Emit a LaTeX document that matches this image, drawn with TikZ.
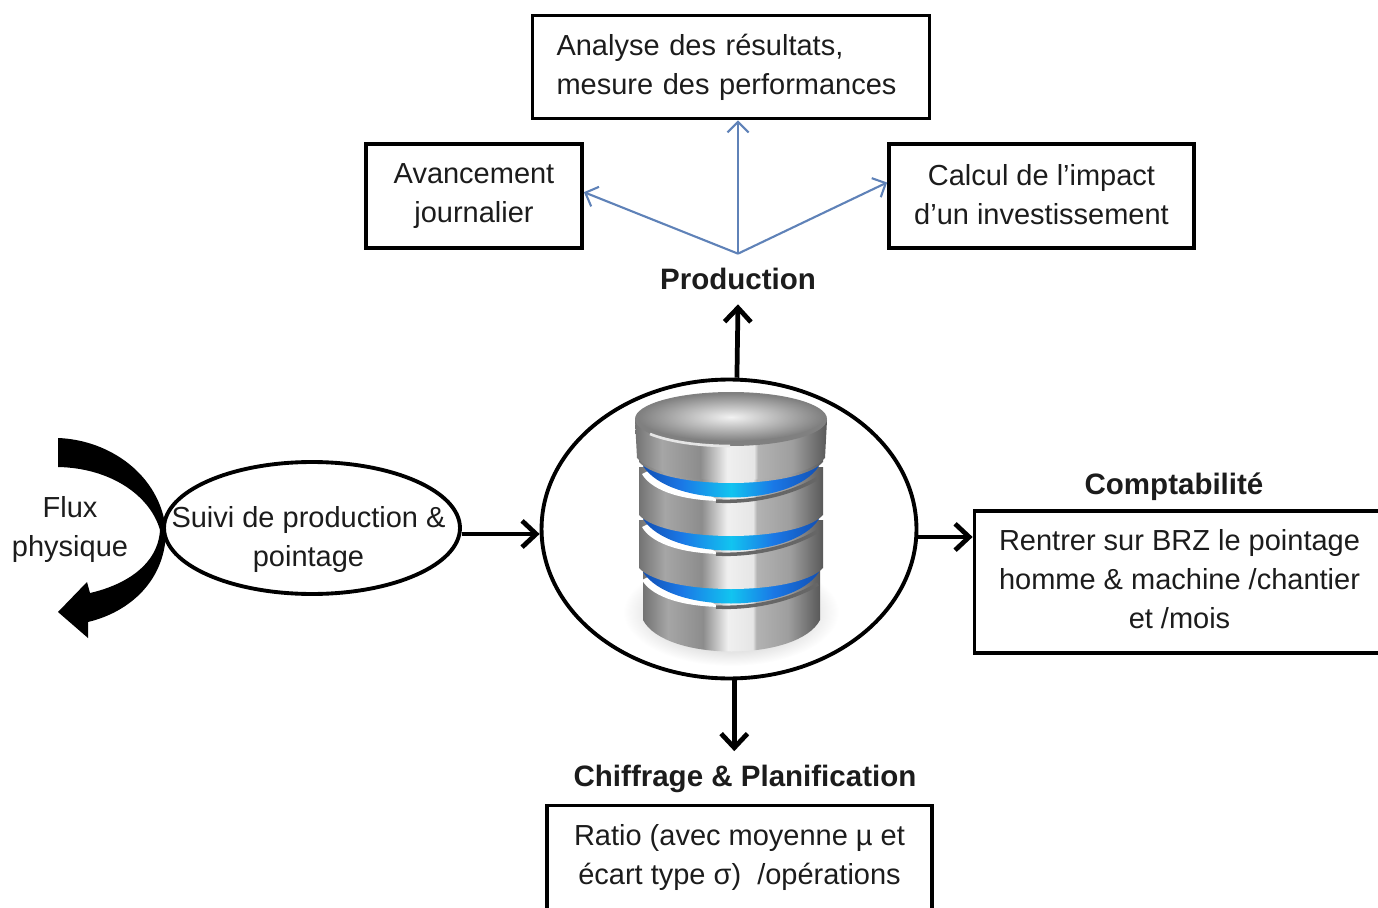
\documentclass[tikz,border=0pt]{standalone}
\usepackage{fontspec}
\setmainfont{Liberation Sans}
\usepackage{tikz}
\usetikzlibrary{arrows.meta,shapes.geometric}
\definecolor{lienbleu}{HTML}{5F82B8}
\definecolor{texte}{HTML}{1C1C1C}
\definecolor{bleufonce}{HTML}{1250B4}
\definecolor{bleumoyen}{HTML}{1A78E6}
\definecolor{bleuclair}{HTML}{12C4F0}
\pgfdeclarehorizontalshading{metal}{100bp}{color(0bp)=(black!55); color(25bp)=(black!55); color(32bp)=(black!35); color(42bp)=(black!45); color(49bp)=(black!6); color(56bp)=(black!10); color(57bp)=(black!30); color(66bp)=(black!38); color(75bp)=(black!65); color(100bp)=(black!65)}
\pgfdeclarehorizontalshading{anneau}{100bp}{color(0bp)=(bleufonce); color(25bp)=(bleufonce); color(36bp)=(bleumoyen); color(50bp)=(bleuclair); color(62bp)=(bleumoyen); color(75bp)=(bleufonce); color(100bp)=(bleufonce)}
\tikzset{
  etiquette/.style={text=texte,align=center,font=\fontsize{16.5}{22.2}\selectfont,inner sep=0pt},
  boite/.style={draw=black,line width=2.2pt,etiquette},
  titre/.style={text=texte,align=center,font=\fontsize{16.8}{22}\selectfont\bfseries,inner sep=0pt,minimum height=1cm},
  fleche/.style={line width=2.7pt,-{Straight Barb[length=8pt,width=15pt,line width=2.7pt]}},
  flechebleue/.style={draw=lienbleu,line width=1.2pt,-{Straight Barb[length=6pt,width=12pt,line width=1.2pt]}}
}
\begin{document}
\begin{tikzpicture}[x=0.02cm,y=-0.02cm]
\useasboundingbox (0,0) rectangle (1378,908);
% ombre sous la base
\shade [inner color=black!40,outer color=white] (731,612) ellipse [x radius=108,y radius=54];
\node (vbase) [draw=black,line width=2.2pt,ellipse,inner sep=0pt,minimum width=7.5cm,minimum height=5.98cm] at (729,529) {};
% base de donnees
\shade [shading=metal] (643,550) -- (643,620) .. controls (665,662) and (798,662) .. (820,620) -- (820,550) -- cycle;
\foreach \dy in {106,53,0} {
  \begin{scope}[shift={(0,\dy)}]
  \fill [white] (642,474) .. controls (650,488) and (675,500) .. (720,501) -- (700,490) -- (650,470) -- cycle;
  \draw [black!60,line width=2pt] (716,501) .. controls (750,503) and (790,495) .. (818,478);
  \shade [shading=anneau] (643,460) -- (643,466) .. controls (670,508) and (792,508) .. (819,466) -- (819,460) -- cycle;
  \shade [shading=metal] (639,414) -- (639,462) .. controls (665,490) and (797,490) .. (823,462) -- (823,414) -- cycle;
  \end{scope}
}
\shade [shading=metal] (635,420) -- (637,458) .. controls (665,488) and (797,488) .. (825,458) -- (827,420) -- cycle;
\fill [black!50] (731,419) ellipse [x radius=96,y radius=27];
\draw [black!10,line width=1.5pt] (650,434) .. controls (670,442) and (700,446) .. (730,446);
\shade [inner color=black!5,outer color=black!50] (731,417) ellipse [x radius=93,y radius=24];
% fleche du flux physique
\fill [black] (58,438) .. controls (110,440) and (160,475) .. (166,530) .. controls (166,580) and (130,612) .. (88,622) -- (88,638) -- (58,612) -- (87,582) -- (90,593) .. controls (125,585) and (158,565) .. (160,530) .. controls (150,495) and (110,468) .. (58,467) -- cycle;
\node (v0) [etiquette] at (70,529.5) {Flux\\physique};
\node (v1) [boite,ellipse,minimum width=5.92cm,minimum height=2.64cm,label={[etiquette,xshift=-2pt,yshift=-6.6pt]center:Suivi de production \&\\pointage}] at (312,528) {};
\node (v2) [boite,minimum width=7.94cm,minimum height=2.06cm,text width=6.98cm,align=left] at (731,67) {Analyse des résultats,\\mesure des performances};
\node (v3) [boite,minimum width=4.32cm,minimum height=2.08cm] at (474,196) {Avancement\\journalier};
\node (v4) [boite,minimum width=6.1cm,minimum height=2.08cm,label={[etiquette,yshift=1pt]center:Calcul de l’impact\\d’un investissement}] at (1041.5,196) {};
\node (v5) [titre] at (738,279) {Production};
\node (v6) [titre] at (1174,487) {Comptabilité};
\node (v7) [boite,minimum width=8.2cm,minimum height=2.84cm,label={[etiquette,yshift=1.9pt]center:Rentrer sur BRZ le pointage\\homme \& machine /chantier\\et /mois}] at (1179.5,582) {};
\node (v8) [titre,minimum height=1.1cm] at (745,779) {Chiffrage \& Planification};
\node (v9) [boite,minimum width=7.7cm,minimum height=2.3cm,label={[etiquette,yshift=3.4pt]center:Ratio (avec moyenne µ et\\écart type σ)~~/opérations}] at (739.5,863) {};
\draw [fleche] (v1.east |- 0,534) -- (vbase.west |- 0,534);
\draw [fleche] (vbase.87) -- (v5.south);
\draw [fleche] (vbase.-88) -- (vbase.-88 |- v8.north);
\draw [fleche] (vbase.east |- 0,537) -- (v7.west |- 0,537);
\draw [flechebleue] (v5.north) -- (v2.south -| v5.north);
\draw [flechebleue] (v5.north) -- (v3.2);
\draw [flechebleue] (v5.north) -- (v4.175);
\end{tikzpicture}
\end{document}
